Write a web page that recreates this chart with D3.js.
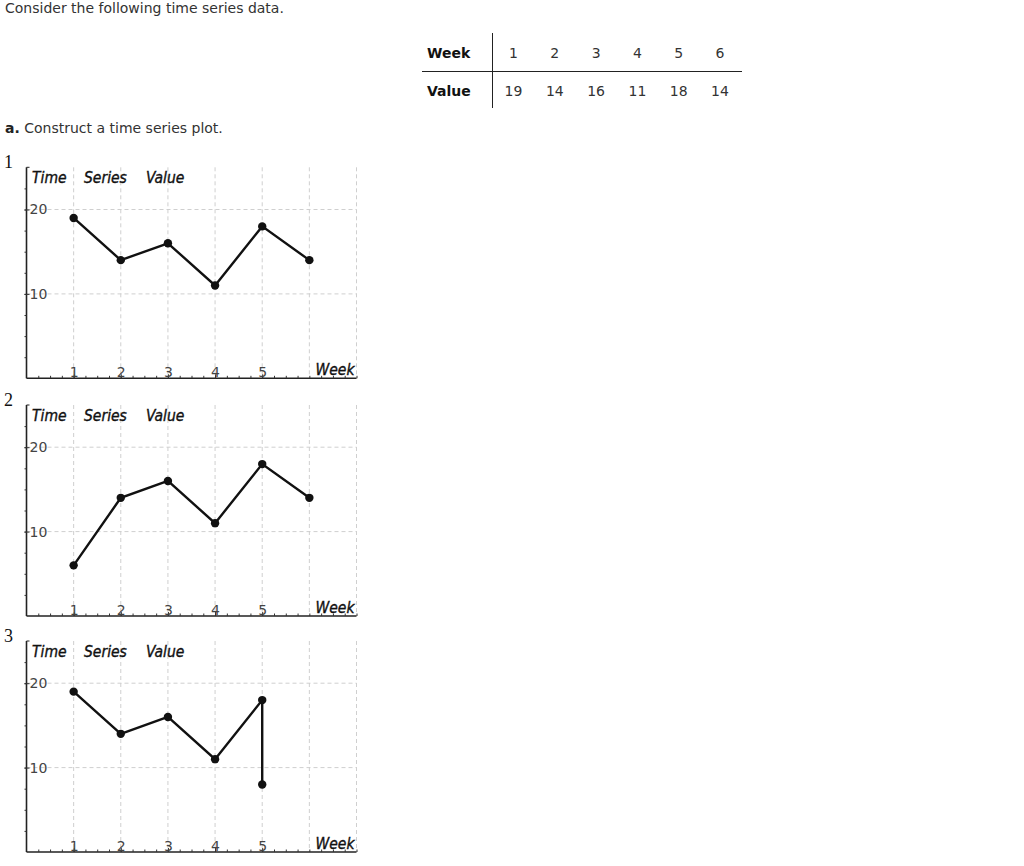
<!DOCTYPE html>
<html>
<head>
<meta charset="utf-8">
<script src="https://cdn.jsdelivr.net/npm/d3@7"></script>
<style>
  body { margin: 0; background: #fff; }
  svg { display: block; }
  .txt { font-family: "DejaVu Sans", Verdana, sans-serif; font-size: 14px; fill: #333; }
  .grid line { stroke: #cfcfcf; stroke-dasharray: 4,3; stroke-width: 1; }
  .axis text { font-family: "DejaVu Sans", sans-serif; font-size: 14px; fill: #444; }
  .axis path { display: none; }
  .axis line { stroke: #333; }
  .ttl { font-family: "DejaVu Sans Condensed", "DejaVu Sans", sans-serif; font-style: italic; font-size: 15.5px; fill: #111; stroke: #111; stroke-width: 0.35; }
  .num { font-family: "Liberation Serif", "DejaVu Serif", serif; font-size: 18px; fill: #111; }
</style>
</head>
<body>
<svg class="page" width="1024" height="866"></svg>
<script>
// table data
var weeks = [1, 2, 3, 4, 5, 6];
var values = [19, 14, 16, 11, 18, 14];

// answer choices: points in drawing order
var choiceLabels = ["1", "2", "3"];
var choice1Weeks = [1, 2, 3, 4, 5, 6];
var choice1Values = [19, 14, 16, 11, 18, 14];
var choice2Weeks = [1, 2, 3, 4, 5, 6];
var choice2Values = [6, 14, 16, 11, 18, 14];
var choice3Weeks = [1, 2, 3, 4, 5, 5];
var choice3Values = [19, 14, 16, 11, 18, 8];

var xTickLabels = [1, 2, 3, 4, 5];
var yTickLabels = [10, 20];
var titleWords = ["Time", "Series", "Value"];

var svg = d3.select(".page");

// header text
svg.append("text").attr("class", "txt")
    .attr("x", 5).attr("y", 13)
    .text("Consider the following time series data.");

var q = svg.append("text").attr("class", "txt").attr("x", 5).attr("y", 133);
q.append("tspan").style("font-weight", "bold").style("fill", "#222").text("a.");
q.append("tspan").text(" Construct a time series plot.");

// data table
var tx = d3.scaleLinear().domain([1, 6]).range([513.5, 720]);
var table = svg.append("g");

table.append("line")
    .attr("x1", 492.5).attr("x2", 492.5).attr("y1", 33).attr("y2", 108)
    .attr("stroke", "#222");
table.append("line")
    .attr("x1", 422).attr("x2", 742).attr("y1", 71.5).attr("y2", 71.5)
    .attr("stroke", "#222");

table.append("text").attr("class", "txt")
    .attr("x", 427).attr("y", 58)
    .style("font-weight", "bold").style("fill", "#111")
    .text("Week");
table.append("text").attr("class", "txt")
    .attr("x", 427).attr("y", 96)
    .style("font-weight", "bold").style("fill", "#111")
    .text("Value");

table.selectAll(".wk")
    .data(weeks)
  .enter().append("text")
    .attr("class", "txt wk")
    .attr("x", function(d) { return tx(d); })
    .attr("y", 58)
    .attr("text-anchor", "middle")
    .text(function(d) { return d; });

table.selectAll(".vl")
    .data(values)
  .enter().append("text")
    .attr("class", "txt vl")
    .attr("x", function(d, i) { return tx(weeks[i]); })
    .attr("y", 96)
    .attr("text-anchor", "middle")
    .text(function(d) { return d; });

// the three small plots
var x = d3.scaleLinear().domain([0, 7]).range([26.5, 356.5]);
var plotH = 211;
var plotTops = [167.3, 405, 641];
var choices = [
  { w: choice1Weeks, v: choice1Values },
  { w: choice2Weeks, v: choice2Values },
  { w: choice3Weeks, v: choice3Values }
];

choices.forEach(function(c, k) {
  var top = plotTops[k];
  var y = d3.scaleLinear().domain([0, 25]).range([top + plotH, top]);
  var g = svg.append("g");

  // choice number
  g.append("text").attr("class", "num")
      .attr("x", 4).attr("y", top + 1)
      .text(choiceLabels[k]);

  // grid
  var grid = g.append("g").attr("class", "grid");
  grid.selectAll(".gv")
      .data(d3.range(1, 8))
    .enter().append("line")
      .attr("x1", function(d) { return x(d); })
      .attr("x2", function(d) { return x(d); })
      .attr("y1", y(25)).attr("y2", y(0));
  grid.selectAll(".gh")
      .data(yTickLabels)
    .enter().append("line")
      .attr("x1", x(0)).attr("x2", x(7))
      .attr("y1", function(d) { return y(d); })
      .attr("y2", function(d) { return y(d); });

  // axis lines
  g.append("line")
      .attr("x1", x(0)).attr("x2", x(0))
      .attr("y1", y(25)).attr("y2", y(0))
      .attr("stroke", "#222").attr("stroke-width", 1.6);
  g.append("line")
      .attr("x1", x(0)).attr("x2", x(0) + 3)
      .attr("y1", y(25)).attr("y2", y(25))
      .attr("stroke", "#222");
  g.append("line")
      .attr("x1", x(0)).attr("x2", x(7))
      .attr("y1", y(0)).attr("y2", y(0))
      .attr("stroke", "#222").attr("stroke-width", 1.6);

  // y ticks
  g.append("g").attr("class", "axis")
      .attr("transform", "translate(" + x(0) + ",0)")
      .call(d3.axisLeft(y).tickValues(d3.range(2.5, 25, 2.5)).tickSize(2).tickFormat(""));
  g.append("g").attr("class", "axis")
      .attr("transform", "translate(" + (x(0) - 2) + ",0)")
      .call(d3.axisRight(y).tickValues(yTickLabels).tickSize(5).tickPadding(0)
        .tickSizeOuter(0).tickFormat(d3.format("d")));

  // x ticks
  g.append("g").attr("class", "axis")
      .attr("transform", "translate(0," + y(0) + ")")
      .call(d3.axisTop(x).tickValues(d3.range(0.25, 7.01, 0.25)).tickSize(2.5).tickFormat(""));
  g.append("g").attr("class", "axis")
      .attr("transform", "translate(0," + y(0) + ")")
      .call(d3.axisTop(x).tickValues(xTickLabels).tickSize(4).tickPadding(-3)
        .tickSizeOuter(0).tickFormat(d3.format("d")));

  // titles
  var wordX = [32, 84, 146];
  g.selectAll(".ttl")
      .data(titleWords)
    .enter().append("text")
      .attr("class", "ttl")
      .attr("x", function(d, i) { return wordX[i]; })
      .attr("y", top + 15.5)
      .text(function(d) { return d; });
  g.append("text").attr("class", "ttl")
      .attr("x", x(7) - 2).attr("y", y(0) - 3.5)
      .attr("text-anchor", "end")
      .text("Week");

  // series
  var pts = c.w.map(function(d, i) { return [d, c.v[i]]; });
  var line = d3.line()
      .x(function(d) { return x(d[0]); })
      .y(function(d) { return y(d[1]); });

  g.append("path")
      .datum(pts)
      .attr("d", line)
      .attr("fill", "none")
      .attr("stroke", "#111")
      .attr("stroke-width", 2.4);

  g.selectAll(".dot")
      .data(pts)
    .enter().append("circle")
      .attr("cx", function(d) { return x(d[0]); })
      .attr("cy", function(d) { return y(d[1]); })
      .attr("r", 4.2)
      .attr("fill", "#111");
});
</script>
</body>
</html>
